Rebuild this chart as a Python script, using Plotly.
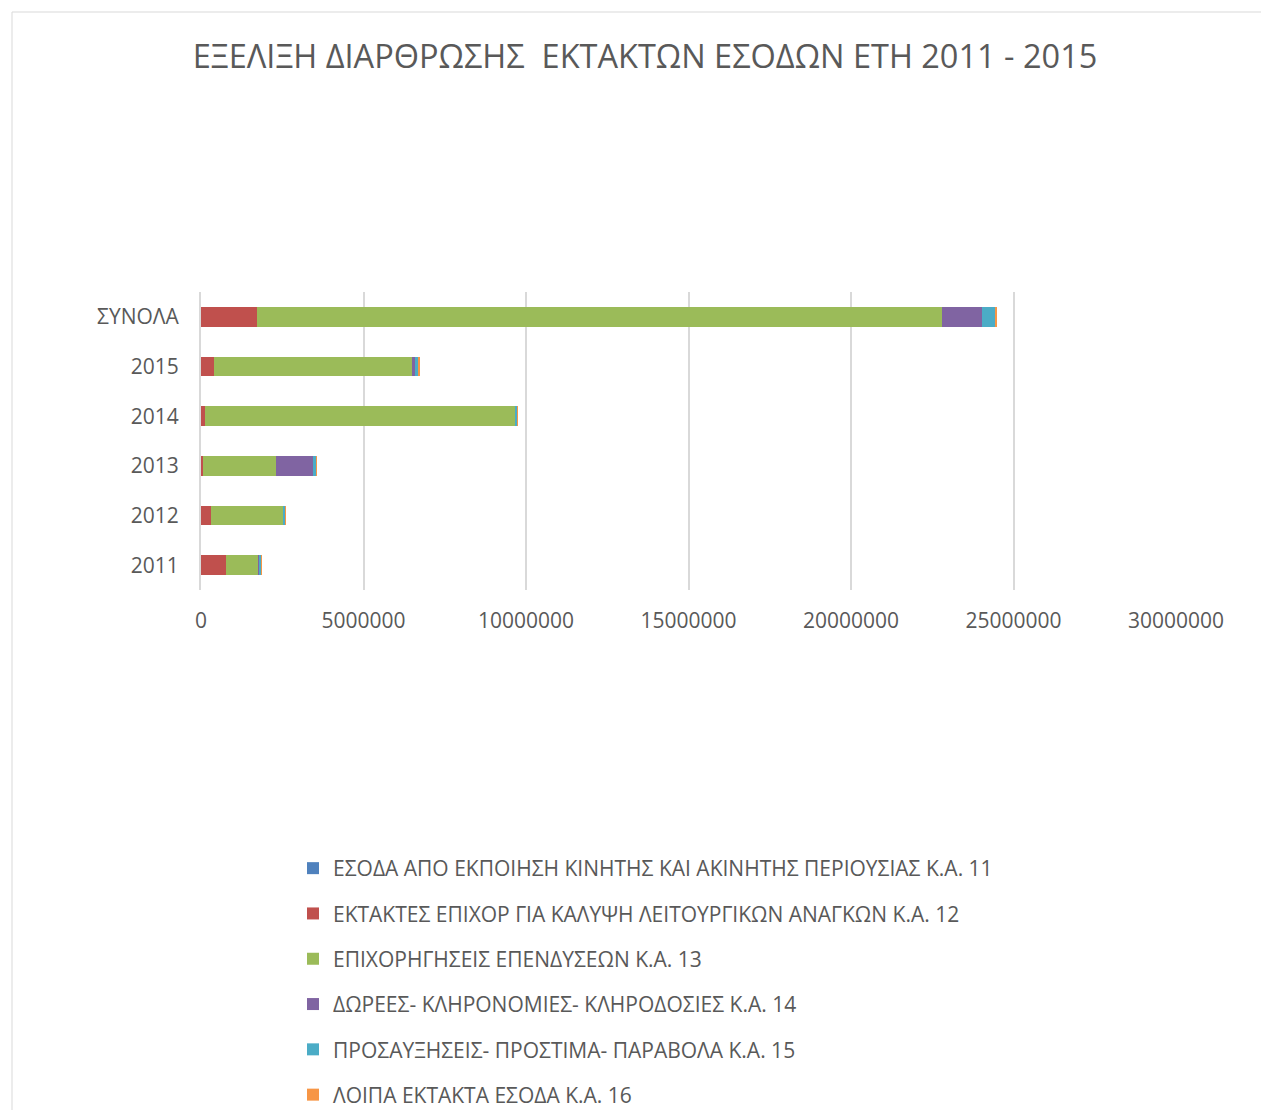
import plotly.graph_objects as go

# categories bottom -> top
years = ["2011", "2012", "2013", "2014", "2015", "ΣΥΝΟΛΑ"]

series_names = [
    "ΕΣΟΔΑ ΑΠΟ ΕΚΠΟΙΗΣΗ ΚΙΝΗΤΗΣ ΚΑΙ ΑΚΙΝΗΤΗΣ ΠΕΡΙΟΥΣΙΑΣ Κ.Α. 11",
    "ΕΚΤΑΚΤΕΣ ΕΠΙΧΟΡ ΓΙΑ ΚΑΛΥΨΗ ΛΕΙΤΟΥΡΓΙΚΩΝ ΑΝΑΓΚΩΝ Κ.Α. 12",
    "ΕΠΙΧΟΡΗΓΗΣΕΙΣ ΕΠΕΝΔΥΣΕΩΝ Κ.Α. 13",
    "ΔΩΡΕΕΣ- ΚΛΗΡΟΝΟΜΙΕΣ- ΚΛΗΡΟΔΟΣΙΕΣ Κ.Α. 14",
    "ΠΡΟΣΑΥΞΗΣΕΙΣ- ΠΡΟΣΤΙΜΑ- ΠΑΡΑΒΟΛΑ Κ.Α. 15",
    "ΛΟΙΠΑ ΕΚΤΑΚΤΑ ΕΣΟΔΑ Κ.Α. 16",
]

ka11 = [0, 0, 0, 0, 0, 0]
ka12 = [780000, 320000, 60000, 110000, 385000, 1710000]
ka13 = [1000000, 2210000, 2240000, 9570000, 6130000, 21100000]
ka14 = [20000, 0, 1160000, 0, 60000, 1220000]
ka15 = [50000, 70000, 90000, 60000, 120000, 420000]
ka16 = [5000, 15000, 5000, 5000, 20000, 40000]

colors = ["#4F81BD", "#C0504D", "#9BBB59", "#8064A2", "#4BACC6", "#F79646"]

fig = go.Figure()
for name, vals, col in zip(series_names, [ka11, ka12, ka13, ka14, ka15, ka16], colors):
    fig.add_trace(go.Bar(
        y=years, x=vals, name=name, orientation="h",
        marker=dict(color=col, line=dict(width=0)),
        legendgroup=name,
    ))

# page body has an 8px margin, so work in figure coordinates (screen - 8)
OFF = 8
W, H = 1269 - 2 * OFF, 1118 - 2 * OFF
L, R, T, B = 201 - OFF, (1269 - OFF) - 1176, 292 - OFF, (1118 - OFF) - 590
pw, ph = W - L - R, H - T - B


def px_x(p):
    return (p - OFF - L) / pw


def px_y(p):
    return 1 - (p - OFF - T) / ph


fig.add_shape(type="rect", xref="paper", yref="paper",
              x0=px_x(12), x1=px_x(1264), y0=px_y(12), y1=px_y(1140),
              line=dict(color="#D9D9D9", width=1), fillcolor="rgba(0,0,0,0)", layer="below")

fig.update_layout(
    width=W, height=H,
    barmode="stack", bargap=0.6,
    plot_bgcolor="white", paper_bgcolor="white",
    font=dict(family="Open Sans", color="#595959", size=21),
    title=dict(text="ΕΞΕΛΙΞΗ ΔΙΑΡΘΡΩΣΗΣ  ΕΚΤΑΚΤΩΝ ΕΣΟΔΩΝ ΕΤΗ 2011 - 2015",
               x=px_x(645), xref="paper", xanchor="center",
               y=1 - (57 - OFF) / H, yanchor="middle",
               font=dict(size=32.5, color="#595959")),
    margin=dict(l=L, r=R, t=T, b=B),
    xaxis=dict(range=[0, 30000000], dtick=5000000, tickformat="d",
               showgrid=True, gridcolor="#D9D9D9", gridwidth=1.5, zeroline=False,
               tickfont=dict(size=21), ticklabelstandoff=16),
    yaxis=dict(type="category", categoryorder="array", categoryarray=years,
               showline=True, linecolor="#D9D9D9", linewidth=2,
               tickfont=dict(size=21), ticklabelstandoff=16),
    legend=dict(orientation="v", traceorder="grouped",
                xref="paper", yref="container",
                x=px_x(293), xanchor="left",
                y=1 - (848 - OFF) / H, yanchor="top", tracegroupgap=15,
                font=dict(size=21, color="#595959")),
    showlegend=True,
)

fig.write_html("out.html")
